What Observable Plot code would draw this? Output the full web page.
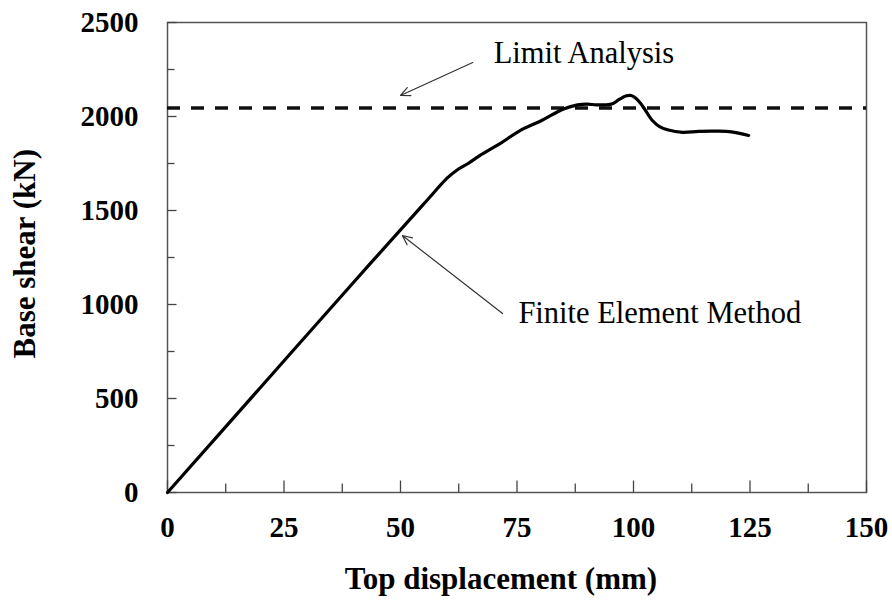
<!DOCTYPE html>
<html>
<head>
<meta charset="utf-8">
<script src="https://cdn.jsdelivr.net/npm/d3@7"></script>
<script src="https://cdn.jsdelivr.net/npm/@observablehq/plot@0.6"></script>
<style>
  html, body { margin: 0; padding: 0; background: #fff; }
  #chart svg { display: block; }
</style>
</head>
<body>
<div id="chart"></div>
<script>
// Finite Element Method curve: top displacement (mm) vs base shear (kN)
const displacement = [0, 20, 40, 55, 60, 62, 64.5, 67, 71, 76, 80, 85, 88, 90, 92, 94, 95.5, 97, 98.5, 99.5, 100.5, 101.5, 102.5, 104, 105.5, 107.5, 110.5, 114, 118, 121, 124.7];
const baseShear    = [0, 560, 1120, 1535, 1672, 1713, 1750, 1792, 1850, 1930, 1975, 2040, 2062, 2066, 2062, 2062, 2068, 2092, 2110, 2112, 2097, 2070, 2035, 1980, 1948, 1928, 1916, 1921, 1922, 1918, 1899];

// Limit analysis value (kN)
const limitAnalysis = [2045];

// Tick values
const xTicks = [0, 25, 50, 75, 100, 125, 150];
const xMinorTicks = [12.5, 37.5, 62.5, 87.5, 112.5, 137.5];
const yTicks = [0, 500, 1000, 1500, 2000, 2500];
const yMinorTicks = [250, 750, 1250, 1750, 2250];

// Annotations (label, label position, arrow start, arrow tip) in data units
const annLabels = ["Limit Analysis", "Finite Element Method"];
const annTextX = [70, 75.3];
const annTextY = [2282, 904];
const annFromX = [65.5, 71.9];
const annFromY = [2287, 952];
const annToX = [50, 50.4];
const annToY = [2112, 1367];

const curve = displacement.map((d, i) => ({d, v: baseShear[i]}));
const anns = annLabels.map((t, i) => ({
  t, tx: annTextX[i], ty: annTextY[i],
  x1: annFromX[i], y1: annFromY[i], x2: annToX[i], y2: annToY[i]
}));

// inward tick shapes (custom symbols)
const tick = (len, dir) => ({
  draw(ctx) {
    ctx.moveTo(0, 0);
    if (dir === "up") ctx.lineTo(0, -len); else ctx.lineTo(len, 0);
  }
});

const font = "'Liberation Serif', 'Times New Roman', serif";

const chart = Plot.plot({
  width: 892,
  height: 606,
  marginLeft: 167,
  marginRight: 26,
  marginTop: 22,
  marginBottom: 114,
  style: {fontFamily: font, background: "#fff", color: "#000"},
  x: {domain: [0, 150], axis: null},
  y: {domain: [0, 2500], axis: null},
  marks: [
    Plot.frame({stroke: "#555", strokeWidth: 1.5}),
    // minor ticks (inward)
    Plot.dot(xMinorTicks, {x: d => d, y: () => 0, symbol: tick(9, "up"), fill: "none", stroke: "#444", strokeWidth: 1.3}),
    Plot.dot(yMinorTicks, {y: d => d, x: () => 0, symbol: tick(7, "right"), fill: "none", stroke: "#444", strokeWidth: 1.3}),
    // major ticks (inward)
    Plot.dot(xTicks, {x: d => d, y: () => 0, symbol: tick(12, "up"), fill: "none", stroke: "#444", strokeWidth: 1.3}),
    Plot.dot(yTicks, {y: d => d, x: () => 0, symbol: tick(9, "right"), fill: "none", stroke: "#444", strokeWidth: 1.3}),
    // tick labels
    Plot.text(xTicks, {x: d => d, text: d => String(d), frameAnchor: "bottom", dy: 44, fontSize: 29, fontWeight: "bold", fill: "#000"}),
    Plot.text(yTicks, {y: d => d, text: d => String(d), frameAnchor: "left", dx: -29, textAnchor: "end", fontSize: 29, fontWeight: "bold", fill: "#000"}),
    // axis titles
    Plot.text(["Top displacement (mm)"], {frameAnchor: "bottom", dx: -16, dy: 96, fontSize: 31, fontWeight: "bold", fill: "#000"}),
    Plot.text(["Base shear (kN)"], {frameAnchor: "left", dx: -142, dy: 101, rotate: -90, fontSize: 31, fontWeight: "bold", fill: "#000"}),
    // limit analysis dashed line
    Plot.ruleY(limitAnalysis, {stroke: "#111", strokeWidth: 3.5, strokeDasharray: "13,11"}),
    // FEM curve
    Plot.line(curve, {x: "d", y: "v", curve: "catmull-rom", stroke: "#000", strokeWidth: 3.2}),
    // annotation arrows
    Plot.arrow(anns, {x1: "x1", y1: "y1", x2: "x2", y2: "y2", stroke: "#333", strokeWidth: 1.2, headLength: 13, headAngle: 50, bend: 0}),
    Plot.text(anns, {x: "tx", y: "ty", text: "t", textAnchor: "start", lineAnchor: "bottom", fontSize: 30.5, fill: "#000"})
  ]
});

document.getElementById("chart").append(chart);
</script>
</body>
</html>
